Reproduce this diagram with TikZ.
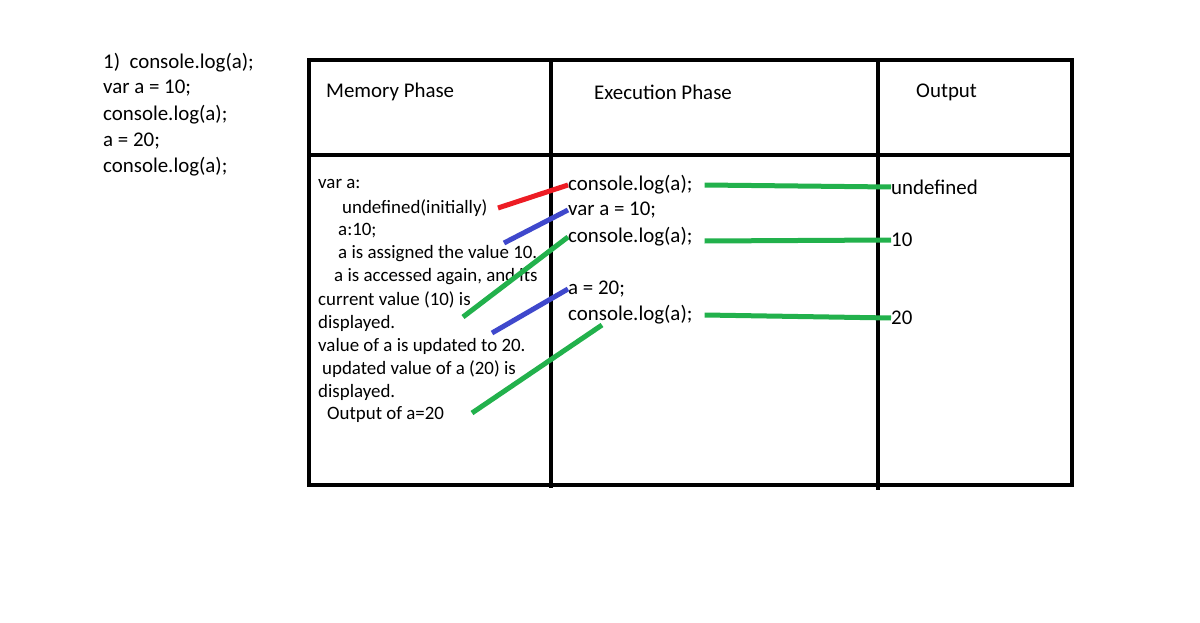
\documentclass[tikz,border=0pt]{standalone}
\usepackage{fontspec}
\setmainfont{Carlito}
\usetikzlibrary{calc}
\definecolor{pred}{RGB}{237,28,36}
\definecolor{pblue}{RGB}{63,72,204}
\definecolor{pgreen}{RGB}{34,177,76}
\tikzset{
	txt/.style={anchor=west,inner sep=0pt,font=\fontsize{20.9}{24}\selectfont},
	memtxt/.style={anchor=west,inner sep=0pt,font=\fontsize{18.9}{22}\selectfont},
	grid/.style={line width=4pt},
	link/.style={line width=5pt},
}
\begin{document}
\begin{tikzpicture}[x=1pt,y=-1pt]
	\useasboundingbox[fill=white] (0,0) rectangle (1200,623);
	% the code
	\node[txt] (p1) at (103,63) {1)\ \ console.log(a);};
	\node[txt] (p2) at (103,88) {var a = 10;};
	\node[txt] (p3) at (103,115) {console.log(a);};
	\node[txt] (p4) at (103,141) {a = 20;};
	\node[txt] (p5) at (103,167) {console.log(a);};
	% table
	\draw[grid] (309,60) rectangle (1072,485);
	\draw[grid] (309,155) -- (1072,155);
	\draw[grid] (551,60) -- (551,488);
	\draw[grid] (878,60) -- (878,490);
	\node[txt] (h1) at (326,92) {Memory Phase};
	\node[txt] (h2) at (594,92) {Execution Phase};
	\node[txt] (h3) at (916,92) {Output};
	% memory phase
	\node[memtxt] (m1) at (318,184) {var a:};
	\node[memtxt] (m2) at (342,208) {undefined(initially)};
	\node[memtxt] (m3) at (338,231) {a:10;};
	\node[memtxt] (m4) at (338,254) {a is assigned the value 10.};
	\node[memtxt] (m5) at (334,277) {a is accessed again, and its};
	\node[memtxt] (m6) at (318,300) {current value (10) is};
	\node[memtxt] (m7) at (318,323) {displayed.};
	\node[memtxt] (m8) at (318,346) {value of a is updated to 20.};
	\node[memtxt] (m9) at (322,369) {updated value of a (20) is};
	\node[memtxt] (m10) at (318,392) {displayed.};
	\node[memtxt] (m11) at (327,415) {Output of a=20};
	% execution phase
	\node[txt] (e1) at (568,185) {console.log(a);};
	\node[txt] (e2) at (568,210) {var a = 10;};
	\node[txt] (e3) at (568,237) {console.log(a);};
	\node[txt] (e4) at (568,289) {a = 20;};
	\node[txt] (e5) at (568,315) {console.log(a);};
	% output
	\node[txt] (o1) at (891,187) {undefined};
	\node[txt] (o2) at (891,240) {10};
	\node[txt] (o3) at (891,318) {20};
	% links
	\coordinate (l1) at (498,208);
	\coordinate (l2) at (504,243);
	\coordinate (l3) at (463,317);
	\coordinate (l4) at (492,333);
	\coordinate (l5) at (472,413);
	\coordinate (l6) at (602,325);
	\draw[link,pred] (l1) -- (e1.west);
	\draw[link,pblue] (l2) -- (e2.west);
	\draw[link,pgreen] (l3) -- (e3.west);
	\draw[link,pblue] (l4) -- (e4.west);
	\draw[link,pgreen] (l5) -- (l6);
	\draw[link,pgreen] ($(e1.east)+(12,0)$) -- (o1.west);
	\draw[link,pgreen] ($(e3.east)+(12,4)$) -- (o2.west);
	\draw[link,pgreen] ($(e5.east)+(12,0)$) -- (o3.west);
\end{tikzpicture}
\end{document}
